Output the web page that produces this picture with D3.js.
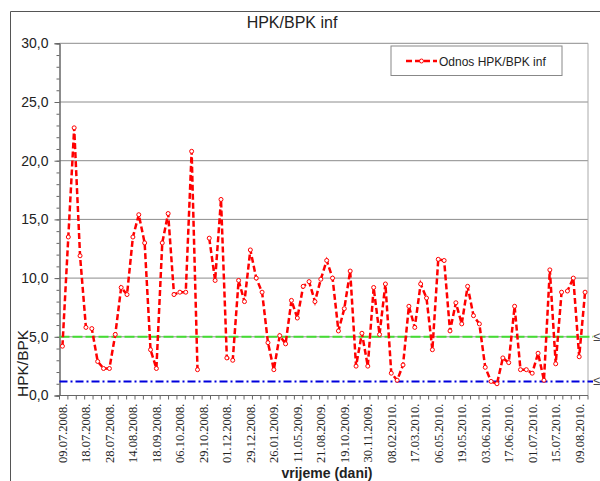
<!DOCTYPE html>
<html>
<head>
<meta charset="utf-8">
<script src="https://cdn.jsdelivr.net/npm/d3@7"></script>
<style>
  body { margin: 0; background: #fff; }
  svg { display: block; font-family: "Liberation Sans", Arial, sans-serif; }
  .xlab text { font-family: "Liberation Serif", "Times New Roman", serif; }
</style>
</head>
<body>
<svg id="chart" width="600" height="481"></svg>
<script>
// odnos HPK/BPK po uzorku (null = nema mjerenja)
const values = [
  4.2, 13.5, 22.8, 11.9, 5.8, 5.7, 2.9, 2.3, 2.3, 5.2,
  9.2, 8.6, 13.5, 15.4, 13.0, 3.9, 2.3, 13.0, 15.5, 8.6,
  8.8, 8.8, 20.8, 2.2, null, 13.4, 9.8, 16.7, 3.2, 3.0,
  9.8, 8.0, 12.4, 10.0, 8.8, 4.5, 2.2, 5.1, 4.4, 8.1,
  6.6, 9.3, 9.7, 8.0, 9.9, 11.5, 10.0, 5.5, 7.4, 10.6,
  2.5, 5.3, 2.5, 9.2, 5.2, 9.5, 1.9, 1.3, 2.6, 7.6,
  5.8, 9.5, 8.3, 3.9, 11.6, 11.5, 5.5, 7.9, 6.1, 9.3,
  6.8, 6.1, 2.4, 1.2, 1.0, 3.2, 2.8, 7.6, 2.2, 2.2,
  1.9, 3.6, 1.3, 10.7, 2.7, 8.8, 8.9, 10.0, 3.3, 8.8
]

// svaki cetvrti uzorak ima oznaku datuma
const tickLabels = [
  '09.07.2008.', '18.07.2008.', '28.07.2008.', '14.08.2008.', '18.09.2008.',
  '06.10.2008.', '29.10.2008.', '01.12.2008.', '29.12.2008.', '26.01.2009.',
  '11.05.2009.', '21.08.2009.', '19.10.2009.', '30.11.2009.', '08.02.2010.',
  '17.03.2010.', '06.05.2010.', '19.05.2010.', '03.06.2010.', '17.06.2010.',
  '01.07.2010.', '15.07.2010.', '09.08.2010.'
]
const labelStep = 4

const yTicks = [0, 5, 10, 15, 20, 25, 30]
const limits = [
  { value: 5.0, color: '#44dd33', dash: '10,3', label: '\u2264 5,0' },
  { value: 1.2, color: '#0000dd', dash: '8,3,2,3', label: '\u2264 1,2' }
]

const pLeft = 59.5, pRight = 588, pTop = 43.3, pBottom = 395.5

const svg = d3.select('#chart')

// okvir grafikona
svg.append('path')
  .attr('d', 'M10.5,481 V11.5 H600')
  .attr('fill', 'none')
  .attr('stroke', '#555')

const x = d3.scalePoint()
  .domain(d3.range(values.length))
  .range([pLeft, pRight])
  .padding(0.5)

const y = d3.scaleLinear()
  .domain([0, 30])
  .range([pBottom, pTop])

const fmt = d => d3.format('.1f')(d).replace('.', ',')

// mreza
svg.append('g')
  .selectAll('line')
  .data(yTicks.filter(d => d > 0))
  .enter()
  .append('line')
  .attr('x1', pLeft)
  .attr('x2', pRight)
  .attr('y1', d => y(d))
  .attr('y2', d => y(d))
  .attr('stroke', '#8c8c8c')
  .attr('stroke-width', 1)

svg.append('line')
  .attr('x1', pRight).attr('x2', pRight)
  .attr('y1', pTop).attr('y2', pBottom)
  .attr('stroke', '#aaa')

// y os
svg.append('g')
  .attr('transform', `translate(${pLeft},0)`)
  .call(d3.axisLeft(y).ticks(30).tickSize(3).tickFormat(''))
const yAxis = svg.append('g')
  .attr('transform', `translate(${pLeft},0)`)
  .call(d3.axisLeft(y).tickValues(yTicks).tickSize(5).tickPadding(6).tickFormat(fmt))
yAxis.selectAll('text')
  .attr('font-size', 14)
  .attr('fill', '#222')
  .attr('font-family', '"Liberation Sans", Arial, sans-serif')
svg.selectAll('.domain, .tick line').attr('stroke', '#666')

// x os
const xt = d3.scaleLinear().domain([0, 63]).range([pLeft, pRight])
svg.append('g')
  .selectAll('line')
  .data(d3.range(64))
  .enter()
  .append('line')
  .attr('x1', d => xt(d))
  .attr('x2', d => xt(d))
  .attr('y1', pBottom)
  .attr('y2', pBottom + 4)
  .attr('stroke', '#666')

svg.append('line')
  .attr('x1', pLeft).attr('x2', pRight)
  .attr('y1', pBottom).attr('y2', pBottom)
  .attr('stroke', '#666')

svg.append('g')
  .attr('class', 'xlab')
  .selectAll('text')
  .data(tickLabels)
  .enter()
  .append('text')
  .attr('transform', (d, i) => `translate(${x(i * labelStep) + 4.5},${pBottom + 8}) rotate(-90)`)
  .attr('text-anchor', 'end')
  .attr('font-size', 12.5)
  .attr('fill', '#222')
  .text(d => d)

// granicne vrijednosti
limits.forEach(function(l) {
  svg.append('line')
    .attr('x1', pLeft)
    .attr('x2', 593)
    .attr('y1', y(l.value))
    .attr('y2', y(l.value))
    .attr('stroke', l.color)
    .attr('stroke-width', 2)
    .attr('stroke-dasharray', l.dash)
  svg.append('text')
    .attr('x', 593)
    .attr('y', y(l.value) + 4)
    .attr('font-size', 13)
    .attr('fill', '#444')
    .text(l.label)
})

// serija
const line = d3.line()
  .defined(d => d != null)
  .x((d, i) => x(i))
  .y(d => y(d))

svg.append('path')
  .datum(values)
  .attr('d', line)
  .attr('fill', 'none')
  .attr('stroke', '#ff0000')
  .attr('stroke-width', 2.5)
  .attr('stroke-dasharray', '6,3')

svg.append('g')
  .selectAll('circle')
  .data(values.map((v, i) => ({ v, i })).filter(d => d.v != null))
  .enter()
  .append('circle')
  .attr('cx', d => x(d.i))
  .attr('cy', d => y(d.v))
  .attr('r', 2)
  .attr('fill', '#fff')
  .attr('stroke', '#ff0000')
  .attr('stroke-width', 1)

// naslovi
svg.append('text')
  .attr('x', 292)
  .attr('y', 28)
  .attr('text-anchor', 'middle')
  .attr('font-size', 16)
  .attr('fill', '#222')
  .text('HPK/BPK inf')

svg.append('text')
  .attr('transform', 'translate(28,397) rotate(-90)')
  .attr('font-size', 15.5)
  .attr('fill', '#222')
  .text('HPK/BPK')

svg.append('text')
  .attr('x', 327)
  .attr('y', 478)
  .attr('text-anchor', 'middle')
  .attr('font-size', 14)
  .attr('font-weight', 'bold')
  .attr('fill', '#222')
  .text('vrijeme (dani)')

// legenda
const lg = svg.append('g').attr('transform', 'translate(391,46)')
lg.append('rect')
  .attr('width', 171)
  .attr('height', 29.5)
  .attr('fill', '#fff')
  .attr('stroke', '#888')
lg.append('line')
  .attr('x1', 15).attr('x2', 46)
  .attr('y1', 15).attr('y2', 15)
  .attr('stroke', '#ff0000')
  .attr('stroke-width', 2.5)
  .attr('stroke-dasharray', '6,3')
lg.append('circle')
  .attr('cx', 30.5).attr('cy', 15).attr('r', 2)
  .attr('fill', '#fff').attr('stroke', '#ff0000')
lg.append('text')
  .attr('x', 48)
  .attr('y', 19.5)
  .attr('font-size', 12)
  .attr('fill', '#222')
  .text('Odnos HPK/BPK inf')
</script>
</body>
</html>
